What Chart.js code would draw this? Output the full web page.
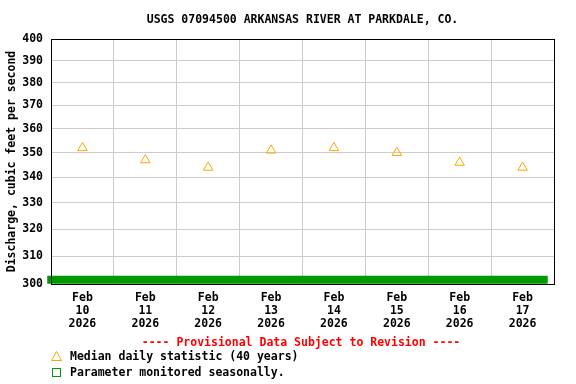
<!DOCTYPE html>
<html>
<head>
<meta charset="utf-8">
<script src="https://cdn.jsdelivr.net/npm/chart.js@4"></script>
<style>
    html, body { margin: 0; padding: 0; background: #fff; }
    #wrap { width: 576px; height: 384px; }
</style>
</head>
<body>
<div id="wrap"><canvas id="flowChart" width="576" height="384"></canvas></div>
<script>
const chartTitle = "USGS 07094500 ARKANSAS RIVER AT PARKDALE, CO.";
const months = ["Feb", "Feb", "Feb", "Feb", "Feb", "Feb", "Feb", "Feb"];
const days = ["10", "11", "12", "13", "14", "15", "16", "17"];
const years = ["2026", "2026", "2026", "2026", "2026", "2026", "2026", "2026"];
const medianFlow = [352, 347, 344, 351, 352, 350, 346, 344];
const yTicks = [300, 310, 320, 330, 340, 350, 360, 370, 380, 390, 400];
// seasonal bar: start / end on the day axis and its flow level
const seasonalSpan = [-0.06, 7.9];
const seasonalLevel = 301.5;

const FONT = "'DejaVu Sans Mono', 'Liberation Mono', monospace";

const boxPlugin = {
    id: "usgsExtras",
    afterDraw(chart) {
        const { ctx, chartArea } = chart;
        ctx.save();
        ctx.strokeStyle = "#000";
        ctx.lineWidth = 1;
        ctx.strokeRect(chartArea.left + 0.5, chartArea.top + 0.5,
            chartArea.right - chartArea.left, chartArea.bottom - chartArea.top);

        ctx.font = "bold 11.5px " + FONT;
        ctx.textBaseline = "middle";
        ctx.textAlign = "center";
        ctx.fillStyle = "#000";
        ctx.fillText(chartTitle, (chartArea.left + chartArea.right) / 2, 20);

        ctx.fillStyle = "#ff0000";
        ctx.fillText("---- Provisional Data Subject to Revision ----", 301, 343);

        ctx.textAlign = "left";
        ctx.fillStyle = "#000";
        ctx.fillText("Median daily statistic (40 years)", 70, 357);
        ctx.fillText("Parameter monitored seasonally.", 70, 373);

        // legend symbols
        ctx.strokeStyle = "#ffa500";
        ctx.beginPath();
        ctx.moveTo(56.5, 351.5);
        ctx.lineTo(61.5, 360.5);
        ctx.lineTo(51.5, 360.5);
        ctx.closePath();
        ctx.stroke();

        ctx.strokeStyle = "#009900";
        ctx.strokeRect(52.5, 368.5, 8, 8);
        ctx.restore();
    }
};

new Chart(document.getElementById("flowChart"), {
    type: "scatter",
    data: {
        datasets: [
            {
                label: "Parameter monitored seasonally.",
                type: "line",
                data: seasonalSpan.map(x => ({ x: x, y: seasonalLevel })),
                borderColor: "#009900",
                borderWidth: 8,
                borderCapStyle: "butt",
                pointRadius: 0,
                clip: false,
                order: 2
            },
            {
                label: "Median daily statistic (40 years)",
                data: medianFlow.map((v, i) => ({ x: i + 0.5, y: v })),
                pointStyle: "triangle",
                pointRadius: 5.5,
                borderColor: "#ffa500",
                backgroundColor: "rgba(255,255,255,0)",
                borderWidth: 1,
                order: 1
            }
        ]
    },
    options: {
        responsive: false,
        animation: false,
        devicePixelRatio: 1,
        layout: {
            padding: { left: 0, right: 22, top: 39, bottom: 0 }
        },
        plugins: {
            legend: { display: false },
            tooltip: { enabled: false },
            title: { display: false }
        },
        scales: {
            x: {
                type: "linear",
                min: 0,
                max: 8,
                afterBuildTicks: scale => {
                    const t = [];
                    for (let v = 0; v <= 16; v++) t.push({ value: v / 2 });
                    scale.ticks = t;
                },
                afterFit: scale => { scale.height = 100; },
                grid: {
                    color: c => (c.tick && c.tick.value % 1 === 0) ? "#cccccc" : "rgba(0,0,0,0)",
                    drawTicks: false
                },
                border: { color: "#000", width: 1 },
                ticks: {
                    autoSkip: false,
                    maxRotation: 0,
                    padding: 8,
                    color: "#000",
                    font: { family: FONT, size: 11.5, weight: "bold", lineHeight: 1.1 },
                    callback: v => {
                        if (v % 1 === 0) return "";
                        const i = Math.floor(v);
                        return [months[i], days[i], years[i]];
                    }
                }
            },
            y: {
                type: "logarithmic",
                min: 300,
                max: 400,
                afterBuildTicks: scale => {
                    scale.ticks = yTicks.map(v => ({ value: v }));
                },
                afterFit: scale => { scale.width = 51; },
                grid: { color: "#cccccc", drawTicks: false },
                border: { color: "#000", width: 1 },
                ticks: {
                    padding: 8,
                    color: "#000",
                    font: { family: FONT, size: 11.5, weight: "bold" },
                    callback: v => String(v)
                },
                title: {
                    display: true,
                    text: "Discharge, cubic feet per second",
                    color: "#000",
                    font: { family: FONT, size: 11.5, weight: "bold", lineHeight: 1.2 },
                    padding: { top: 5, bottom: 0 }
                }
            }
        }
    },
    plugins: [boxPlugin]
});
</script>
</body>
</html>
